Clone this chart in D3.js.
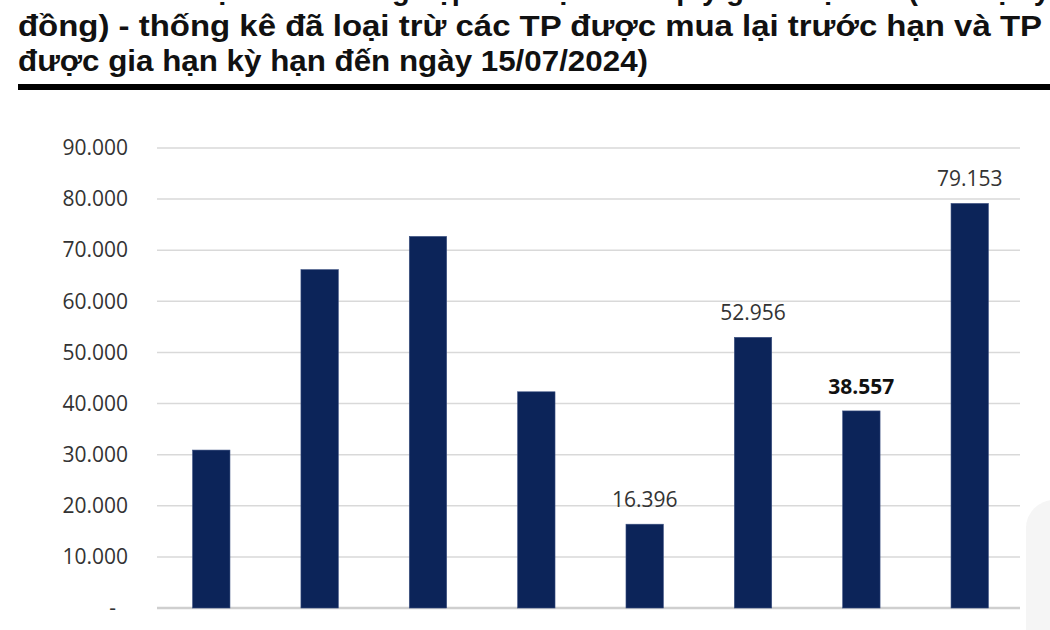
<!DOCTYPE html>
<html>
<head>
<meta charset="utf-8">
<script src="https://cdn.jsdelivr.net/npm/d3@7"></script>
<style>
  body { margin: 0; background: #fff; }
  svg { display: block; }
</style>
</head>
<body>
<div id="root"></div>
<script>
// categories are cut off at the bottom of the picture, so these are a guess
const categories = ["Q3/24", "Q4/24", "Q1/25", "Q2/25", "Q3/25", "Q4/25", "Q1/26", "Q2/26"];
const values = [30900, 66200, 72700, 42300, 16396, 52956, 38557, 79153];
// only some bars carry a label in the original
const labelled = [false, false, false, false, true, true, true, true];
const boldLabel = [false, false, false, false, false, false, true, false];
const yTicks = [0, 10000, 20000, 30000, 40000, 50000, 60000, 70000, 80000, 90000];
const titleLines = [
  "Biểu đồ: Giá trị TP doanh nghiệp đáo hạn theo quý giai đoạn tới (đơn vị: tỷ",
  "đồng) - thống kê đã loại trừ các TP được mua lại trước hạn và TP",
  "được gia hạn kỳ hạn đến ngày 15/07/2024)"
];

const W = 1050, H = 630;

const svg = d3.select("#root").append("svg")
  .attr("width", W)
  .attr("height", H);

// faint overlay on the right edge, as in the screenshot
svg.append("rect")
  .attr("x", 1026).attr("y", 500)
  .attr("width", 60).attr("height", 160)
  .attr("rx", 28)
  .attr("fill", "#f5f5f5");

// title block
const titleLens = [1032, 1024, 630];
const titleY = [0, 36, 71];
titleLines.forEach((t, i) => {
  svg.append("text")
    .attr("x", 18)
    .attr("y", titleY[i])
    .attr("textLength", titleLens[i])
    .attr("lengthAdjust", "spacingAndGlyphs")
    .style("font-family", "'Liberation Sans', Arial, sans-serif")
    .style("font-weight", "bold")
    .style("font-size", "29px")
    .style("fill", "#111")
    .text(t);
});

svg.append("rect")
  .attr("x", 18).attr("y", 84)
  .attr("width", W - 18).attr("height", 6)
  .attr("fill", "#000");

const x = d3.scaleBand()
  .domain(categories)
  .range([159, 1022])
  .paddingInner(0.655)
  .paddingOuter(0.31);

const y = d3.scaleLinear()
  .domain([0, 90000])
  .range([608, 148]);

const fmt = d => d === 0 ? "-" : d3.format(",")(d).replace(/,/g, ".");

// grid
svg.append("g")
  .selectAll("line")
  .data(yTicks)
  .join("line")
  .attr("x1", 157).attr("x2", 1020)
  .attr("y1", d => y(d)).attr("y2", d => y(d))
  .attr("stroke", d => d === 0 ? "#cfcfcf" : "#d9d9d9")
  .attr("stroke-width", d => d === 0 ? 2.5 : 1.5);

// y axis labels
const yAxis = d3.axisLeft(y).tickValues(yTicks).tickSize(0).tickPadding(0).tickFormat(fmt);
const ya = svg.append("g")
  .attr("transform", "translate(128,0)")
  .call(yAxis);
ya.select(".domain").remove();
ya.selectAll("text")
  .style("font-family", "'Open Sans', sans-serif")
  .style("font-size", "21px")
  .style("fill", "#333");
ya.selectAll(".tick")
  .filter(d => d === 0)
  .select("text")
  .attr("x", -12);

// x axis labels (mostly cut off by the bottom edge)
const xAxis = d3.axisBottom(x).tickSize(0).tickPadding(0);
const xa = svg.append("g")
  .attr("transform", "translate(0,632)")
  .call(xAxis);
xa.select(".domain").remove();
xa.selectAll("text")
  .style("font-family", "'Open Sans', sans-serif")
  .style("font-size", "21px")
  .style("fill", "#aaa");

// bars
svg.append("g")
  .selectAll("rect")
  .data(values)
  .join("rect")
  .attr("x", (d, i) => x(categories[i]))
  .attr("y", d => y(d))
  .attr("width", x.bandwidth())
  .attr("height", d => y(0) - y(d))
  .attr("fill", "#0c2459")
  .attr("stroke", "#3a4f80")
  .attr("stroke-width", 0.6);

// value labels
svg.append("g")
  .selectAll("text")
  .data(values.map((v, i) => ({ v, i })).filter(d => labelled[d.i]))
  .join("text")
  .attr("x", d => x(categories[d.i]) + x.bandwidth() / 2)
  .attr("y", d => y(d.v) - 17)
  .attr("text-anchor", "middle")
  .style("font-family", "'Open Sans', sans-serif")
  .style("font-size", "21px")
  .style("font-weight", d => boldLabel[d.i] ? "bold" : "normal")
  .style("fill", d => boldLabel[d.i] ? "#111" : "#333")
  .text(d => fmt(d.v));
</script>
</body>
</html>
